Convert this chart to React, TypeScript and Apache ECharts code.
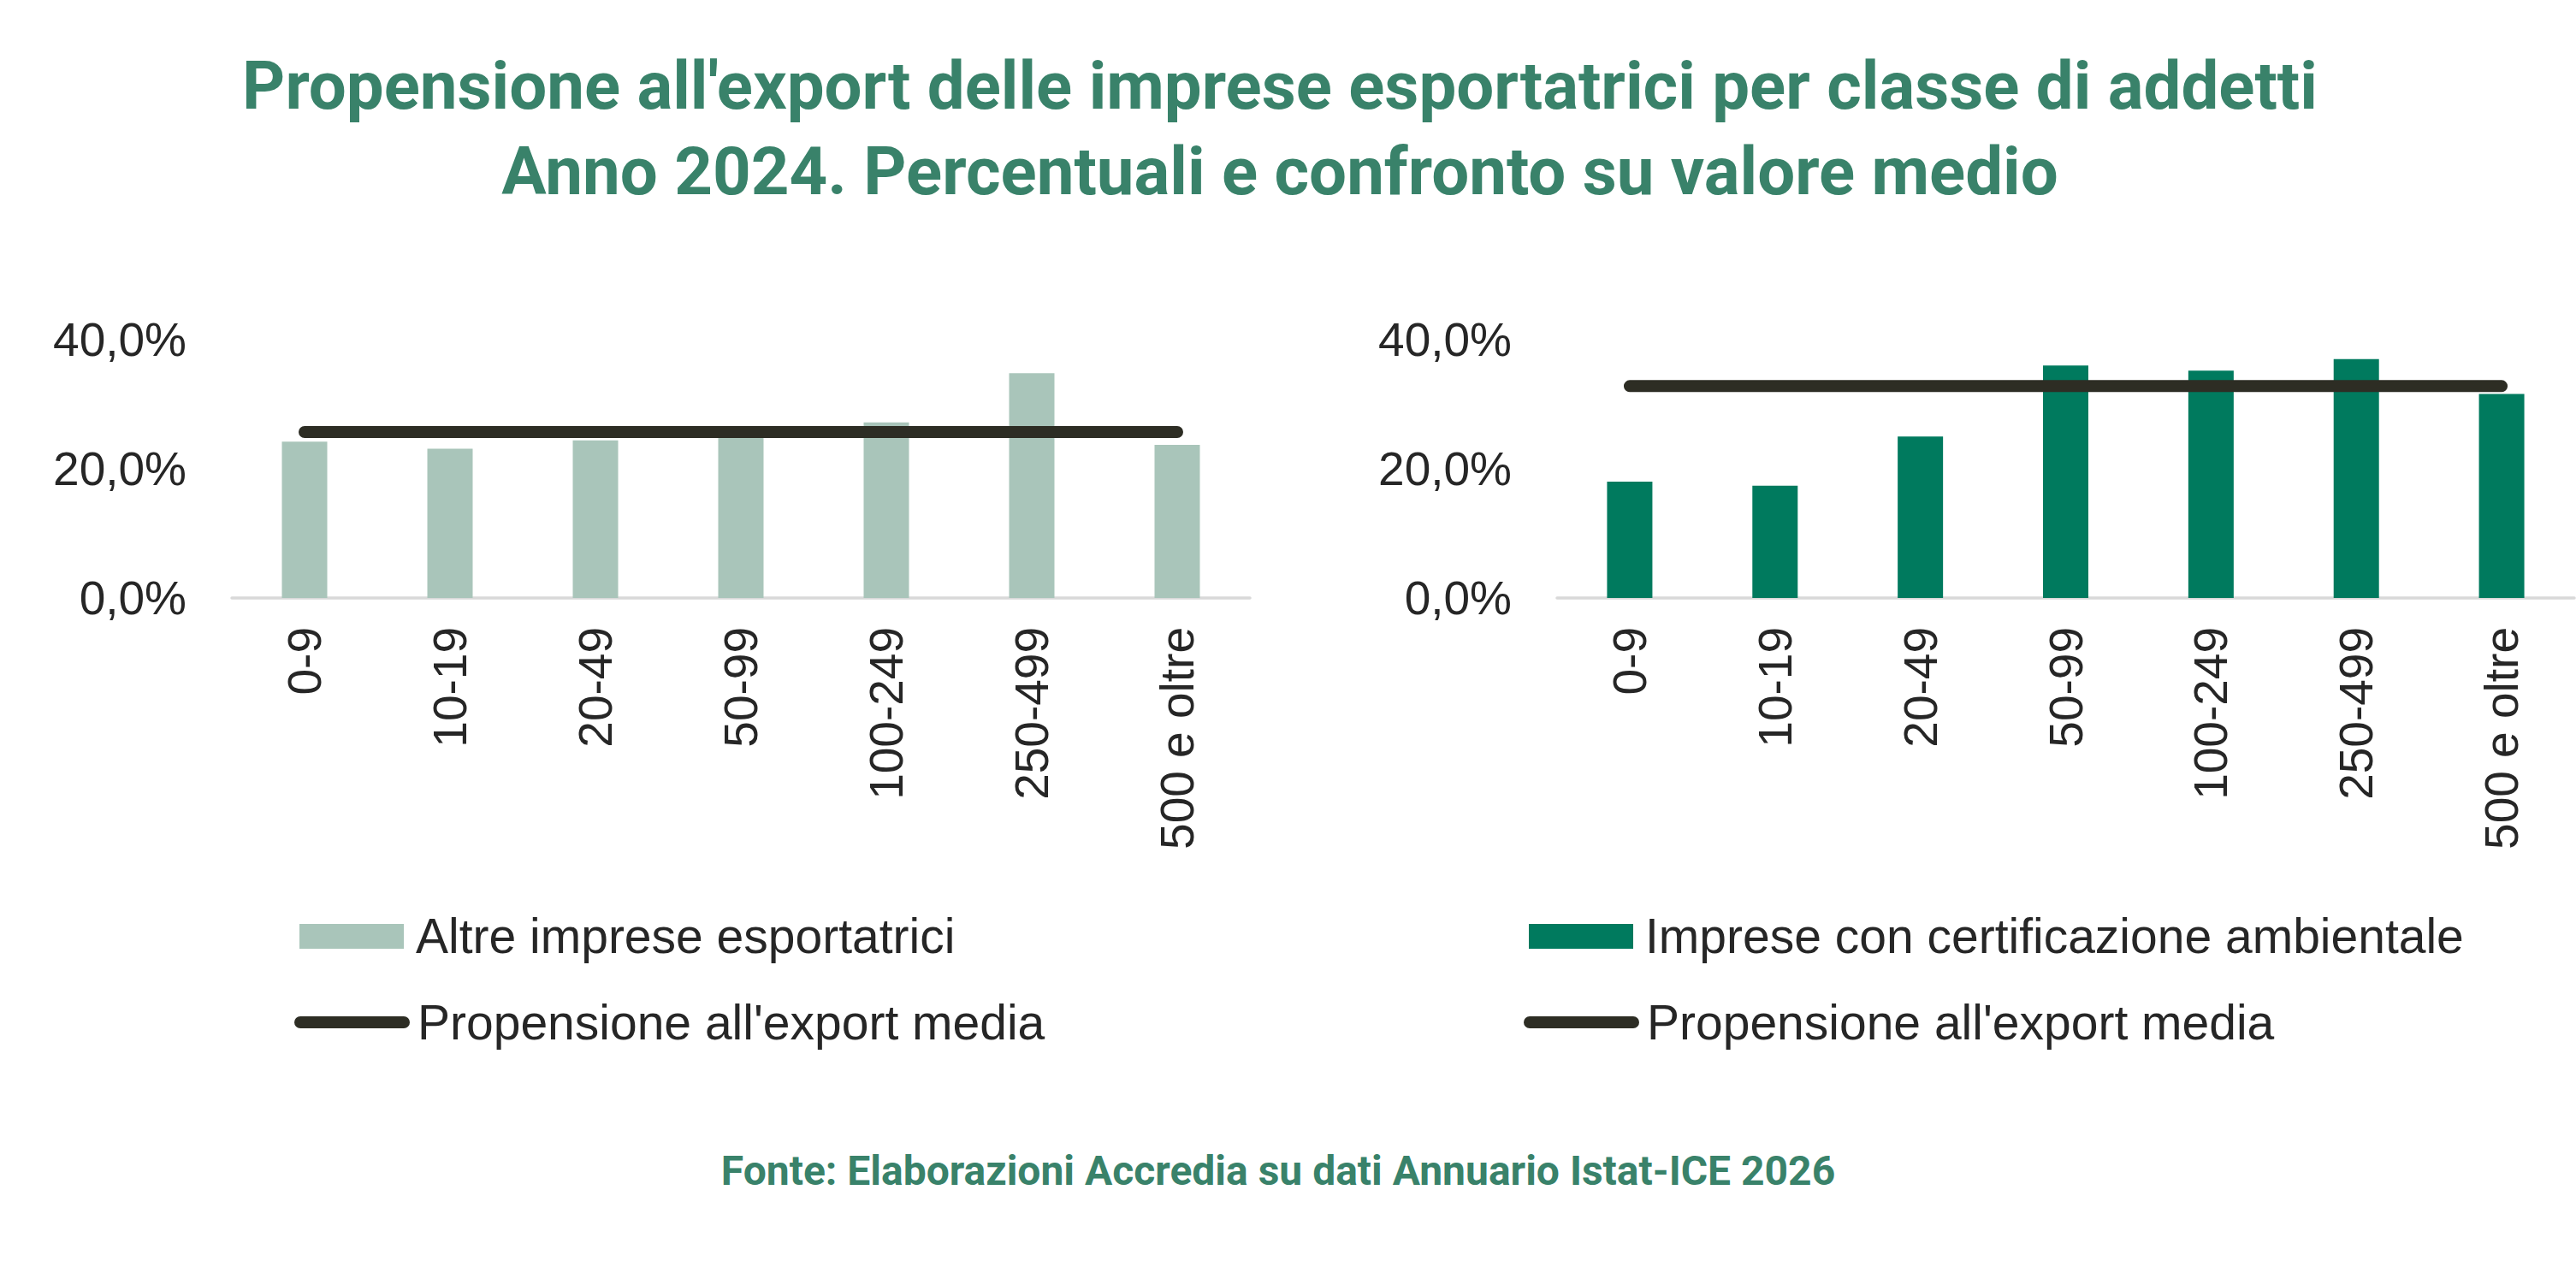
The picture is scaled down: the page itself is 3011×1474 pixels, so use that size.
import React, { useEffect, useRef } from "react";
import * as echarts from "echarts";

const categories = ["0-9", "10-19", "20-49", "50-99", "100-249", "250-499", "500 e oltre"];
const altreImprese = [24.2, 23.1, 24.4, 25.5, 27.2, 34.8, 23.7];
const mediaAltre = [25.7, 25.7, 25.7, 25.7, 25.7, 25.7, 25.7];
const impreseCertificate = [18.0, 17.4, 25.0, 36.0, 35.2, 37.0, 31.6];
const mediaCertificate = [32.8, 32.8, 32.8, 32.8, 32.8, 32.8, 32.8];
const yTicks = [0, 20, 40];

const titleText =
  "Propensione all'export delle imprese esportatrici per classe di addetti\nAnno 2024. Percentuali e confronto su valore medio";
const sourceText = "Fonte: Elaborazioni Accredia su dati Annuario Istat-ICE 2026";
const legendLeft = ["Altre imprese esportatrici", "Propensione all'export media"];
const legendRight = ["Imprese con certificazione ambientale", "Propensione all'export media"];

const GREEN_TITLE = "#39826A";
const BAR_LIGHT = "#A9C5BA";
const BAR_DARK = "#007A5E";
const LINE_DARK = "#2D2D24";
const TEXT = "#262626";
const AXIS_FONT = "Liberation Sans, Arial, sans-serif";

function fmt(v: number) {
  return v.toFixed(1).replace(".", ",") + "%";
}

function legendBlock(x: number, labels: string[], barColor: string) {
  return [
    {
      type: "rect",
      shape: { x: x, y: 1080, width: 122, height: 29 },
      style: { fill: barColor },
    },
    {
      type: "text",
      x: x + 136,
      y: 1094,
      style: {
        text: labels[0],
        font: `57px ${AXIS_FONT}`,
        fill: TEXT,
        verticalAlign: "middle",
        textAlign: "left",
      },
    },
    {
      type: "line",
      shape: { x1: x + 1, y1: 1195, x2: x + 122, y2: 1195 },
      style: { stroke: LINE_DARK, lineWidth: 14, lineCap: "round" },
    },
    {
      type: "text",
      x: x + 138,
      y: 1195,
      style: {
        text: labels[1],
        font: `57px ${AXIS_FONT}`,
        fill: TEXT,
        verticalAlign: "middle",
        textAlign: "left",
      },
    },
  ];
}

export default function App() {
  const ref = useRef<HTMLDivElement>(null);

  useEffect(() => {
    if (!ref.current) return;
    const chart = echarts.init(ref.current, undefined, { renderer: "svg" });

    const xAxisBase = (gridIndex: number) => ({
      type: "category",
      gridIndex,
      data: categories,
      boundaryGap: true,
      axisTick: { show: false },
      axisLine: { show: true, lineStyle: { color: "#D9D9D9", width: 3.5 } },
      axisLabel: {
        rotate: 90,
        margin: 34,
        interval: 0,
        color: TEXT,
        fontSize: 55,
        fontFamily: AXIS_FONT,
      },
      splitLine: { show: false },
    });

    const yAxisBase = (gridIndex: number) => ({
      type: "value",
      gridIndex,
      min: yTicks[0],
      max: yTicks[yTicks.length - 1],
      interval: yTicks[1] - yTicks[0],
      axisLine: { show: false },
      axisTick: { show: false },
      splitLine: { show: false },
      axisLabel: {
        margin: 53,
        color: TEXT,
        fontSize: 55,
        fontFamily: AXIS_FONT,
        formatter: (v: number) => fmt(v),
      },
    });

    chart.setOption({
      animation: false,
      backgroundColor: "#ffffff",
      title: {
        text: titleText,
        left: 1496,
        top: 50,
        padding: 0,
        textAlign: "center",
        textStyle: {
          fontFamily: "Roboto",
          fontWeight: "bold",
          fontSize: 78,
          lineHeight: 100,
          color: GREEN_TITLE,
        },
      },
      grid: [
        { left: 271, top: 397, width: 1190, height: 302, outerBoundsMode: "none" },
        { left: 1820, top: 397, width: 1189, height: 302, outerBoundsMode: "none" },
      ],
      xAxis: [xAxisBase(0), xAxisBase(1)],
      yAxis: [yAxisBase(0), yAxisBase(1)],
      series: [
        {
          name: legendLeft[0],
          type: "bar",
          xAxisIndex: 0,
          yAxisIndex: 0,
          data: altreImprese,
          barWidth: 53,
          itemStyle: { color: BAR_LIGHT },
        },
        {
          name: legendLeft[1],
          type: "line",
          xAxisIndex: 0,
          yAxisIndex: 0,
          data: mediaAltre,
          symbol: "none",
          z: 5,
          lineStyle: { color: LINE_DARK, width: 14, cap: "round" },
        },
        {
          name: legendRight[0],
          type: "bar",
          xAxisIndex: 1,
          yAxisIndex: 1,
          data: impreseCertificate,
          barWidth: 53,
          itemStyle: { color: BAR_DARK },
        },
        {
          name: legendRight[1] + " ",
          type: "line",
          xAxisIndex: 1,
          yAxisIndex: 1,
          data: mediaCertificate,
          symbol: "none",
          z: 5,
          lineStyle: { color: LINE_DARK, width: 14, cap: "round" },
        },
      ],
      graphic: [
        ...legendBlock(350, legendLeft, BAR_LIGHT),
        ...legendBlock(1787, legendRight, BAR_DARK),
        {
          type: "text",
          x: 1494,
          y: 1368,
          style: {
            text: sourceText,
            font: "bold 48px Roboto",
            fill: GREEN_TITLE,
            textAlign: "center",
            verticalAlign: "middle",
          },
        },
      ],
    });

    return () => {
      chart.dispose();
    };
  }, []);

  return (
    <div
      ref={ref}
      style={{
        position: "fixed",
        left: 0,
        top: 0,
        width: "3011px",
        height: "1474px",
        background: "#ffffff",
      }}
    />
  );
}
